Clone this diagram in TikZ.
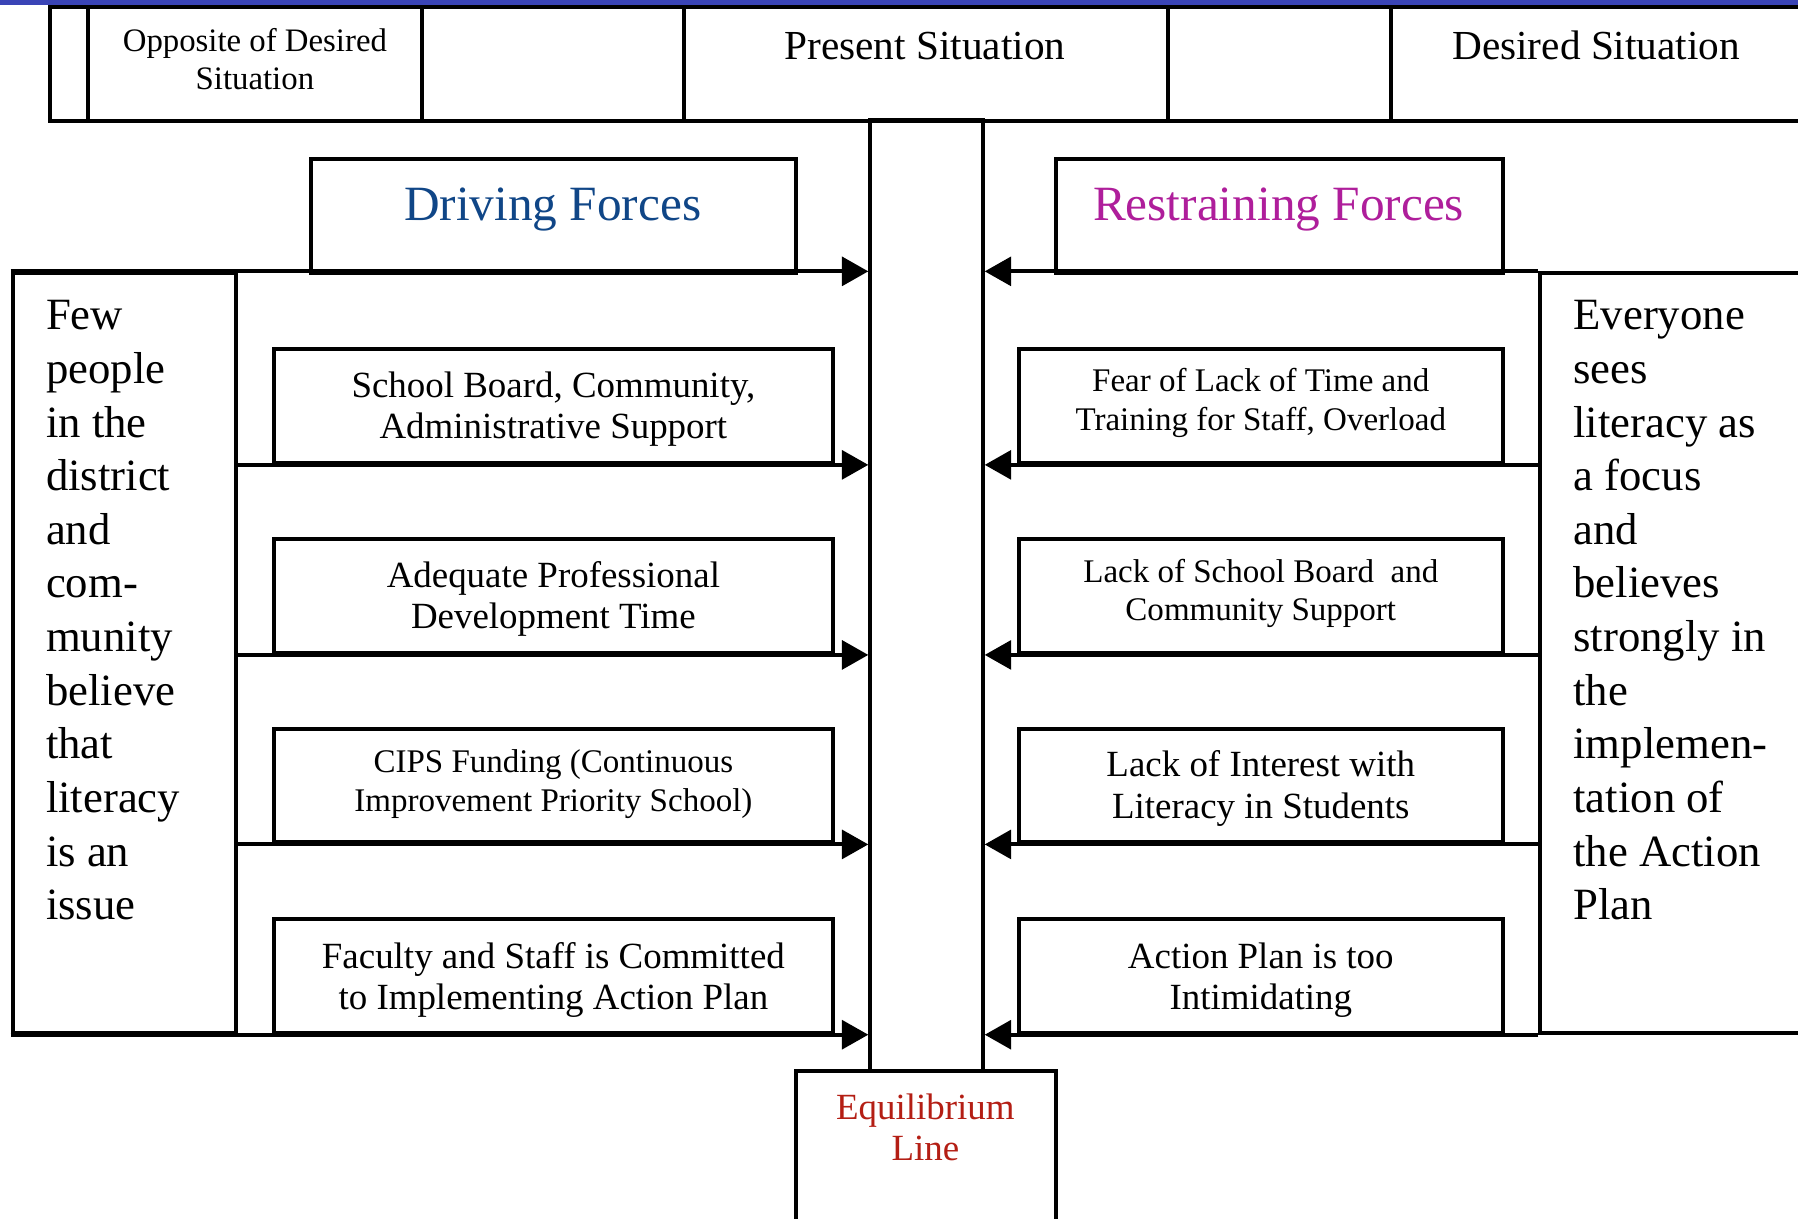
\documentclass[tikz,border=0pt]{standalone}
\usepackage{fontspec}
\setmainfont{Liberation Serif}
\usetikzlibrary{arrows.meta}
\definecolor{topblue}{RGB}{58,68,182}
\definecolor{dfblue}{RGB}{16,70,135}
\definecolor{rfmag}{RGB}{175,30,155}
\definecolor{eqred}{RGB}{180,30,20}
\tikzset{
  cell/.style={draw, line width=1.75pt, inner sep=0pt, minimum height=#1},
  lbl/.style={inner sep=0pt, anchor=base, align=center},
  sidetxt/.style={inner sep=0pt, anchor=base west, align=left, font=\fontsize{19.5pt}{23.4pt}\selectfont},
  bigf/.style={font=\fontsize{16.1pt}{18pt}\selectfont},
  smallf/.style={font=\fontsize{14.4pt}{16.6pt}\selectfont},
  arr/.style={line width=1.75pt, -{Triangle[length=11.5pt, width=12.5pt]}}
}
\begin{document}
\begin{tikzpicture}[x=0.5pt, y=-0.5pt]
\clip (0,0) rectangle (1568,1063);
\fill[white] (0,0) rectangle (1568,1063);
\fill[topblue] (0,0) rectangle (1568,4.8);
% header cells
\node[cell=49.7pt, minimum width=16.3pt] (h0) at (60.3,55.5) {};
\node[cell=49.7pt, minimum width=145.7pt] (h1) at (222.3,55.5) {};
\node[cell=49.7pt, minimum width=114.1pt] (h2) at (482.1,55.5) {};
\node[cell=49.7pt, minimum width=211.2pt] (h3) at (807.4,55.5) {};
\node[cell=49.7pt, minimum width=97.4pt] (h4) at (1116,55.5) {};
\node[cell=49.7pt, minimum width=218.3pt] (h5) at (1431.7,55.5) {};
\node[lbl, font=\fontsize{14.3pt}{16.45pt}\selectfont] (topp) at (222.3,77.9) {Opposite of Desired\\Situation};
\node[lbl, font=\fontsize{18pt}{21pt}\selectfont] (tpres) at (806.5,52.3) {Present Situation};
\node[lbl, font=\fontsize{18pt}{21pt}\selectfont] (tdes) at (1392,52.3) {Desired Situation};
% central column and equilibrium
\node[cell=414.35pt, minimum width=49pt] (col) at (808,519.3) {};
\node[cell=83.15pt, minimum width=113.35pt] (eq) at (807.3,1016.85) {};
\node[lbl, bigf, text=eqred] (teq) at (807,1012.2) {Equilibrium\\Line};
% force headers
\node[cell=49.7pt, minimum width=211.5pt] (df) at (482.3,188.7) {};
\node[cell=49.7pt, minimum width=195pt] (rf) at (1115.7,188.7) {};
\node[lbl, font=\fontsize{21.5pt}{25pt}\selectfont, text=dfblue] (tdf) at (482,191.9) {Driving Forces};
\node[lbl, font=\fontsize{21.5pt}{25pt}\selectfont, text=rfmag] (trf) at (1115,191.9) {Restraining Forces};
% side boxes
\node[cell=331.1pt, minimum width=97.4pt] (lb) at (108.4,569.5) {};
\node[cell=331.1pt, minimum width=153.35pt] (rb) at (1496.65,569.5) {};
\node[sidetxt] (tlb) at (39.8,802.3) {Few\\people\\in the\\district\\and\\com-\\munity\\believe\\that\\literacy\\is an\\issue};
\node[sidetxt] (trb) at (1371.8,802.3) {Everyone\\sees\\literacy as\\a focus\\and\\believes\\strongly in\\the\\implemen-\\tation of\\the Action\\Plan};
% driving boxes
\node[cell=49.65pt, minimum width=243.8pt] (d1) at (482.6,354) {};
\node[cell=49.65pt, minimum width=243.8pt] (d2) at (482.6,519.75) {};
\node[cell=49.65pt, minimum width=243.8pt] (d3) at (482.6,685) {};
\node[cell=49.65pt, minimum width=243.8pt] (d4) at (482.6,851.15) {};
\node[lbl, bigf] (td1) at (482.6,382.3) {School Board, Community,\\Administrative Support};
\node[lbl, bigf] (td2) at (482.6,548) {Adequate Professional\\Development Time};
\node[lbl, smallf] (td3) at (482.6,707.3) {CIPS Funding (Continuous\\Improvement Priority School)};
\node[lbl, bigf] (td4) at (482.6,880.2) {Faculty and Staff is Committed\\to Implementing Action Plan};
% restraining boxes
\node[cell=49.65pt, minimum width=211.2pt] (r1) at (1099.5,354) {};
\node[cell=49.65pt, minimum width=211.2pt] (r2) at (1099.5,519.75) {};
\node[cell=49.65pt, minimum width=211.2pt] (r3) at (1099.5,685) {};
\node[cell=49.65pt, minimum width=211.2pt] (r4) at (1099.5,851.15) {};
\node[lbl, smallf] (tr1) at (1099.5,375) {Fear of Lack of Time and\\Training for Staff, Overload};
\node[lbl, smallf] (tr2) at (1099.5,541.3) {Lack of School Board\ \ and\\Community Support};
\node[lbl, bigf] (tr3) at (1099.5,713.6) {Lack of Interest with\\Literacy in Students};
\node[lbl, bigf] (tr4) at (1099.5,880.2) {Action Plan is too\\Intimidating};
% driving arrows
\draw[arr] (lb.north west) -- (col.west |- lb.north);
\draw[arr] (lb.east |- d1.south) -- (col.west |- d1.south);
\draw[arr] (lb.east |- d2.south) -- (col.west |- d2.south);
\draw[arr] (lb.east |- d3.south) -- (col.west |- d3.south);
\draw[arr] (lb.south west) -- (col.west |- lb.south);
% restraining arrows
\draw[arr] (rb.north west) -- (col.east |- rb.north);
\draw[arr] (rb.west |- r1.south) -- (col.east |- r1.south);
\draw[arr] (rb.west |- r2.south) -- (col.east |- r2.south);
\draw[arr] (rb.west |- r3.south) -- (col.east |- r3.south);
\draw[arr] (rb.south west) -- (col.east |- rb.south);
\end{tikzpicture}
\end{document}
